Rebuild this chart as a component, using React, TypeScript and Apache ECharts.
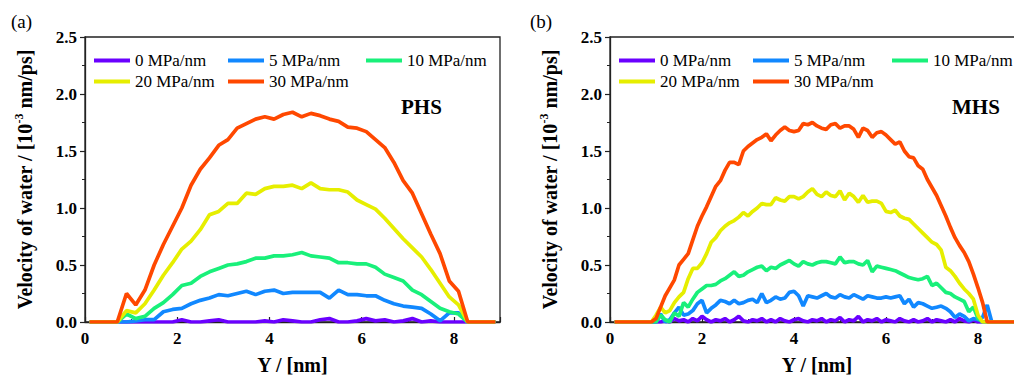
import React, { useEffect, useRef } from "react";
import * as echarts from "echarts";

// ---------- Data ----------
const SERIES_NAMES = ["0 MPa/nm", "5 MPa/nm", "10 MPa/nm", "20 MPa/nm", "30 MPa/nm"];
const COLORS = ["#6a00ff", "#1188ff", "#19f07a", "#e6ee00", "#ff4800"];

// Panel (a) PHS
const PHS_X = [0.1, 0.3, 0.5, 0.7, 0.9, 1.1, 1.3, 1.5, 1.7, 1.9, 2.1, 2.3, 2.5, 2.7, 2.9, 3.1, 3.3, 3.5, 3.7, 3.9, 4.1, 4.3, 4.5, 4.7, 4.9, 5.1, 5.3, 5.5, 5.7, 5.9, 6.1, 6.3, 6.5, 6.7, 6.9, 7.1, 7.3, 7.5, 7.7, 7.9, 8.1, 8.3, 8.5, 8.7, 8.9];
const PHS_0 = [0, 0, 0, 0, 0, 0, 0.0, 0.0, 0.0, 0.0, 0.02, 0.0, 0.0, 0.01, 0.02, 0.0, 0.0, 0.0, 0.0, 0.01, 0.0, 0.02, 0.01, 0.0, 0.0, 0.02, 0.03, 0.0, 0.0, 0.01, 0.03, 0.01, 0.02, 0.0, 0.01, 0.03, 0.0, 0.01, 0.0, 0.0, 0.0, 0, 0, 0, 0];
const PHS_5 = [0, 0, 0, 0, 0, 0.01, 0.02, 0.02, 0.09, 0.11, 0.12, 0.16, 0.19, 0.21, 0.24, 0.23, 0.25, 0.27, 0.24, 0.27, 0.28, 0.25, 0.26, 0.26, 0.26, 0.26, 0.21, 0.28, 0.24, 0.24, 0.23, 0.23, 0.19, 0.16, 0.14, 0.13, 0.12, 0.07, 0.01, 0.08, 0.08, 0, 0, 0, 0];
const PHS_10 = [0, 0, 0, 0, 0.07, 0.03, 0.05, 0.12, 0.17, 0.24, 0.32, 0.34, 0.4, 0.44, 0.47, 0.5, 0.51, 0.53, 0.56, 0.56, 0.58, 0.58, 0.59, 0.61, 0.58, 0.57, 0.56, 0.52, 0.52, 0.51, 0.51, 0.48, 0.42, 0.39, 0.36, 0.28, 0.24, 0.18, 0.12, 0.09, 0.07, 0, 0, 0, 0];
const PHS_20 = [0, 0, 0, 0, 0.1, 0.08, 0.16, 0.28, 0.41, 0.52, 0.64, 0.71, 0.81, 0.94, 0.97, 1.04, 1.04, 1.13, 1.12, 1.17, 1.19, 1.19, 1.2, 1.17, 1.22, 1.17, 1.16, 1.16, 1.14, 1.07, 1.03, 0.99, 0.91, 0.82, 0.73, 0.65, 0.57, 0.46, 0.34, 0.22, 0.15, 0, 0, 0, 0];
const PHS_30 = [0, 0, 0, 0, 0.25, 0.15, 0.28, 0.5, 0.68, 0.84, 1.0, 1.2, 1.34, 1.44, 1.55, 1.6, 1.7, 1.74, 1.78, 1.8, 1.78, 1.82, 1.84, 1.8, 1.83, 1.81, 1.78, 1.76, 1.71, 1.7, 1.67, 1.6, 1.53, 1.4, 1.24, 1.13, 0.95, 0.77, 0.6, 0.36, 0.27, 0, 0, 0, 0];

// Panel (b) MHS
const MHS_X = [0.1, 0.5, 0.9,
  1.0, 1.1, 1.2, 1.3, 1.4, 1.5, 1.6, 1.7, 1.8, 1.9,
  2.0, 2.1, 2.2, 2.3, 2.4, 2.5, 2.6, 2.7, 2.8, 2.9,
  3.0, 3.1, 3.2, 3.3, 3.4, 3.5, 3.6, 3.7, 3.8, 3.9,
  4.0, 4.1, 4.2, 4.3, 4.4, 4.5, 4.6, 4.7, 4.8, 4.9,
  5.0, 5.1, 5.2, 5.3, 5.4, 5.5, 5.6, 5.7, 5.8, 5.9,
  6.0, 6.1, 6.2, 6.3, 6.4, 6.5, 6.6, 6.7, 6.8, 6.9,
  7.0, 7.1, 7.2, 7.3, 7.4, 7.5, 7.6, 7.7, 7.8, 7.9,
  8.0, 8.1, 8.2, 8.3, 8.6, 9.0];
const MHS_0 = [0, 0, 0,
  0, 0, 0.01, 0.0, 0.03, 0.01, 0.02, 0.0, 0.03, 0.01,
  0.05, 0.02, 0.0, 0.02, 0.01, 0.03, 0.0, 0.02, 0.05, 0.01,
  0.0, 0.02, 0.01, 0.03, 0.0, 0.02, 0.0, 0.03, 0.01, 0.0,
  0.02, 0.03, 0.01, 0.0, 0.02, 0.01, 0.03, 0.0, 0.02, 0.01,
  0.04, 0.0, 0.02, 0.01, 0.05, 0.0, 0.02, 0.01, 0.03, 0.0,
  0.02, 0.01, 0.0, 0.03, 0.01, 0.0, 0.02, 0.0, 0.01, 0.03,
  0.0, 0.02, 0.01, 0.0, 0.02, 0.0, 0.03, 0.01, 0.0, 0.02,
  0.0, 0, 0, 0, 0, 0];
const MHS_5 = [0, 0, 0,
  0.0, 0.07, 0.0, 0.02, 0.08, 0.13, 0.06, 0.07, 0.1, 0.16,
  0.19, 0.08, 0.12, 0.15, 0.19, 0.18, 0.16, 0.19, 0.16, 0.17,
  0.19, 0.2, 0.17, 0.25, 0.17, 0.19, 0.22, 0.2, 0.21, 0.26,
  0.27, 0.23, 0.14, 0.23, 0.22, 0.21, 0.23, 0.25, 0.22, 0.21,
  0.24, 0.22, 0.21, 0.24, 0.22, 0.2, 0.23, 0.22, 0.21, 0.21,
  0.22, 0.21, 0.22, 0.23, 0.16, 0.2, 0.13, 0.17, 0.16, 0.14,
  0.12, 0.13, 0.14, 0.12, 0.09, 0.04, 0.07, 0.05, 0.01, 0.03,
  0.02, 0.04, 0.15, 0, 0, 0];
const MHS_10 = [0, 0, 0,
  0.0, 0.06, 0.02, 0.0, 0.08, 0.05, 0.17, 0.13, 0.2, 0.26,
  0.29, 0.32, 0.32, 0.33, 0.36, 0.38, 0.41, 0.44, 0.4, 0.41,
  0.44, 0.46, 0.48, 0.49, 0.45, 0.48, 0.47, 0.5, 0.52, 0.54,
  0.51, 0.49, 0.53, 0.51, 0.5, 0.52, 0.53, 0.53, 0.52, 0.51,
  0.57, 0.52, 0.53, 0.53, 0.51, 0.5, 0.54, 0.44, 0.49, 0.48,
  0.47, 0.46, 0.45, 0.43, 0.41, 0.39, 0.38, 0.37, 0.38, 0.4,
  0.32, 0.34, 0.3, 0.26, 0.25, 0.22, 0.2, 0.18, 0.09, 0.13,
  0.03, 0, 0, 0, 0, 0];
const MHS_20 = [0, 0, 0,
  0.06, 0.13, 0.08, 0.1, 0.17, 0.22, 0.26, 0.38, 0.47, 0.47,
  0.52, 0.6, 0.7, 0.74, 0.8, 0.84, 0.87, 0.89, 0.92, 0.96,
  0.93, 0.97, 1.0, 1.04, 1.03, 1.03, 1.09, 1.07, 1.06, 1.1,
  1.1, 1.08, 1.1, 1.14, 1.17, 1.12, 1.1, 1.14, 1.11, 1.1,
  1.15, 1.07, 1.13, 1.1, 1.05, 1.11, 1.05, 1.06, 1.06, 1.04,
  0.97, 0.96, 0.98, 0.93, 0.91, 0.9, 0.86, 0.82, 0.78, 0.74,
  0.7, 0.68, 0.63, 0.48, 0.45, 0.4, 0.34, 0.29, 0.25, 0.2,
  0.06, 0, 0, 0, 0, 0];
const MHS_30 = [0, 0, 0,
  0.03, 0.13, 0.23, 0.3, 0.37, 0.5, 0.55, 0.6, 0.72, 0.84,
  0.93, 1.01, 1.1, 1.19, 1.24, 1.33, 1.4, 1.4, 1.38, 1.5,
  1.54, 1.57, 1.6, 1.62, 1.65, 1.59, 1.64, 1.68, 1.71, 1.68,
  1.67, 1.68, 1.74, 1.73, 1.75, 1.72, 1.7, 1.69, 1.73, 1.74,
  1.7, 1.72, 1.72, 1.69, 1.62, 1.7, 1.68, 1.62, 1.66, 1.67,
  1.64, 1.6, 1.56, 1.58, 1.5, 1.45, 1.44, 1.37, 1.34, 1.25,
  1.18, 1.11, 1.02, 0.93, 0.83, 0.74, 0.67, 0.61, 0.53, 0.42,
  0.3, 0.17, 0, 0, 0, 0];

const PHS_SERIES = [PHS_0, PHS_5, PHS_10, PHS_20, PHS_30];
const MHS_SERIES = [MHS_0, MHS_5, MHS_10, MHS_20, MHS_30];

const Y_MIN = 0;
const Y_MAX = 2.5;
const Y_STEP = 0.5;
const X_MIN = 0;
const X_MAX = 9;
const X_STEP = 2;

const FONT = "Liberation Serif";

export default function App() {
  const ref = useRef<HTMLDivElement>(null);

  useEffect(() => {
    if (!ref.current) return;
    const chart = echarts.init(ref.current, null, { renderer: "svg" });

    const grids = [
      { left: 85, top: 37, width: 415, height: 291 },
      { left: 610, top: 37, width: 414, height: 291 },
    ];

    const mkX = (gi: number) => ({
      type: "value",
      gridIndex: gi,
      min: X_MIN,
      max: X_MAX,
      interval: X_STEP,
      name: "Y / [nm]",
      nameLocation: "middle",
      nameGap: 33,
      nameTextStyle: { fontFamily: FONT, fontWeight: "bold", fontSize: 20, color: "#000" },
      axisLine: { show: true, onZero: false, lineStyle: { color: "#222", width: 1.3 } },
      axisTick: { show: true, inside: true, length: 5, lineStyle: { color: "#222", width: 1.2 } },
      minorTick: { show: true, splitNumber: 2, length: 3, lineStyle: { color: "#222", width: 1 } },
      axisLabel: {
        fontFamily: FONT, fontWeight: "bold", fontSize: 17, color: "#000", margin: 8,
        showMaxLabel: false,
      },
      splitLine: { show: false },
    });

    const mkY = (gi: number) => ({
      type: "value",
      gridIndex: gi,
      min: Y_MIN,
      max: Y_MAX,
      interval: Y_STEP,
      name: "Velocity of water / [10{sup|-3} nm/ps]",
      nameLocation: "middle",
      nameGap: 48,
      nameTextStyle: {
        fontFamily: FONT, fontWeight: "bold", fontSize: 20, color: "#000", lineHeight: 24,
        rich: {
          sup: { fontFamily: FONT, fontWeight: "bold", fontSize: 12, color: "#000", verticalAlign: "top" },
        },
      },
      axisLine: { show: true, lineStyle: { color: "#222", width: 1.3 } },
      axisTick: { show: true, inside: false, length: 5, lineStyle: { color: "#222", width: 1.2 } },
      minorTick: { show: true, splitNumber: 2, length: 3, lineStyle: { color: "#222", width: 1 } },
      axisLabel: {
        fontFamily: FONT, fontWeight: "bold", fontSize: 17, color: "#000", margin: 8,
        formatter: (v: number) => v.toFixed(1),
      },
      splitLine: { show: false },
    });

    const series: any[] = [];
    PHS_SERIES.forEach((vals, i) => {
      series.push({
        type: "line",
        name: SERIES_NAMES[i],
        xAxisIndex: 0,
        yAxisIndex: 0,
        data: PHS_X.map((x, j) => [x, vals[j]]),
        showSymbol: false,
        symbol: "none",
        lineStyle: { color: COLORS[i], width: 3.7 },
        itemStyle: { color: COLORS[i] },
        z: 2 + i,
      });
    });
    MHS_SERIES.forEach((vals, i) => {
      series.push({
        type: "line",
        name: SERIES_NAMES[i],
        xAxisIndex: 1,
        yAxisIndex: 1,
        data: MHS_X.map((x, j) => [x, vals[j]]),
        showSymbol: false,
        symbol: "none",
        lineStyle: { color: COLORS[i], width: 3.7 },
        itemStyle: { color: COLORS[i] },
        z: 2 + i,
      });
    });

    const legendBase = {
      orient: "vertical",
      top: 52,
      itemWidth: 36,
      itemHeight: 4,
      itemGap: 4,
      icon: "rect",
      padding: 0,
      selectedMode: false,
      textStyle: { fontFamily: FONT, fontSize: 17, color: "#000", lineHeight: 16 },
    };
    const legends = [
      { ...legendBase, left: 94, data: [SERIES_NAMES[0], SERIES_NAMES[3]] },
      { ...legendBase, left: 228, data: [SERIES_NAMES[1], SERIES_NAMES[4]] },
      { ...legendBase, left: 366, data: [SERIES_NAMES[2]] },
      { ...legendBase, left: 619, data: [SERIES_NAMES[0], SERIES_NAMES[3]] },
      { ...legendBase, left: 753, data: [SERIES_NAMES[1], SERIES_NAMES[4]] },
      { ...legendBase, left: 892, data: [SERIES_NAMES[2]] },
    ];

    chart.setOption({
      animation: false,
      backgroundColor: "#fff",
      textStyle: { fontFamily: FONT },
      grid: grids.map((g) => ({ ...g, show: true, borderColor: "#222", borderWidth: 1.3, backgroundColor: "transparent" })),
      xAxis: [mkX(0), mkX(1)],
      yAxis: [mkY(0), mkY(1)],
      legend: legends,
      series,
      graphic: [
        { type: "text", left: 11, top: 12, style: { text: "(a)", fontFamily: FONT, fontSize: 19, fill: "#000" } },
        { type: "text", left: 530, top: 12, style: { text: "(b)", fontFamily: FONT, fontSize: 19, fill: "#000" } },
        { type: "text", left: 401, top: 96, style: { text: "PHS", fontFamily: FONT, fontWeight: "bold", fontSize: 21, fill: "#000" } },
        { type: "text", left: 952, top: 96, style: { text: "MHS", fontFamily: FONT, fontWeight: "bold", fontSize: 21, fill: "#000" } },
      ],
    });

    return () => chart.dispose();
  }, []);

  return (
    <div
      ref={ref}
      style={{ position: "fixed", left: 0, top: 0, width: 1030, height: 380, background: "#fff" }}
    />
  );
}
